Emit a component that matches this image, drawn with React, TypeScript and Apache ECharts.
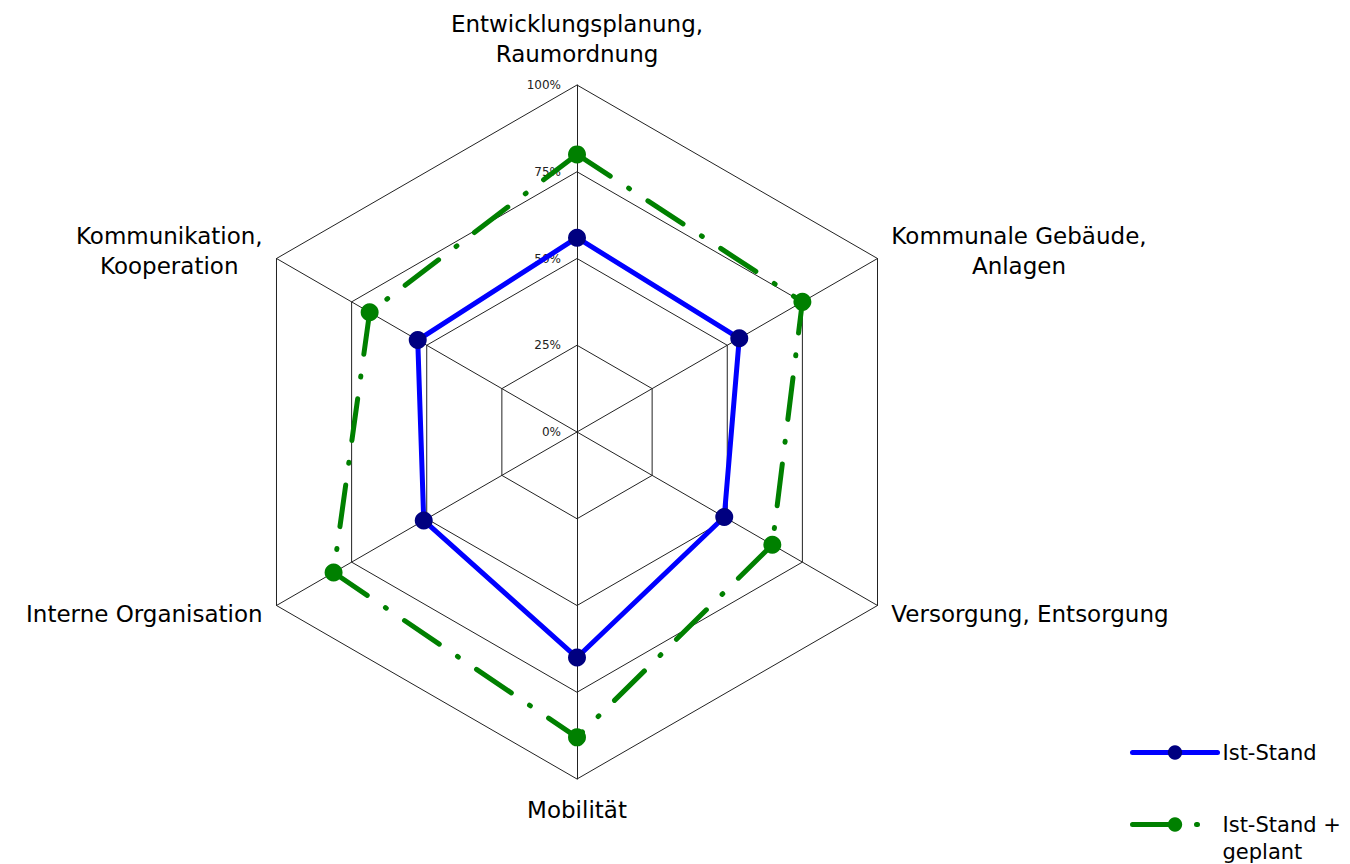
import React, { useEffect, useRef } from 'react';
import * as echarts from 'echarts';

// Categories in clockwise order starting from the top (as in the reference)
const categories = [
  'Entwicklungsplanung,\nRaumordnung',
  'Kommunale Gebäude,\nAnlagen',
  'Versorgung, Entsorgung',
  'Mobilität',
  'Interne Organisation',
  'Kommunikation,\nKooperation',
];
const istStand = [56, 54, 49, 65, 51, 53];
const istStandGeplant = [80, 75, 65, 88, 81, 69];
const tickValues = [0, 25, 50, 75, 100];
const seriesNames = ['Ist-Stand', 'Ist-Stand + geplant'];

export default function App() {
  const ref = useRef<HTMLDivElement>(null);
  useEffect(() => {
    const chart = echarts.init(ref.current as HTMLDivElement, null, { renderer: 'svg' });
    // ECharts radar places indicators counter-clockwise; reorder to get clockwise layout
    const order = [0, 5, 4, 3, 2, 1];
    const font = '"DejaVu Sans", "Liberation Sans", Arial, sans-serif';
    const greenDash = [42, 22, 1, 22];
    const center = [577, 432];
    const radius = 347;
    chart.setOption({
      animation: false,
      backgroundColor: '#ffffff',
      radar: {
        center,
        radius,
        startAngle: 90,
        shape: 'polygon',
        splitNumber: 4,
        nameGap: 16,
        indicator: order.map((i) => ({
          name: categories[i],
          min: tickValues[0],
          max: tickValues[tickValues.length - 1],
        })),
        axisName: {
          formatter: (n: string) =>
            n
              .split('\n')
              .map((l) => `{c|${l}}`)
              .join('\n'),
          rich: {
            c: {
              align: 'center',
              fontSize: 23,
              lineHeight: 30,
              fontFamily: font,
              color: '#000000',
            },
          },
          fontSize: 23,
          lineHeight: 30,
          fontFamily: font,
          color: '#000000',
        },
        axisLine: { lineStyle: { color: '#222222', width: 1 } },
        splitLine: { lineStyle: { color: '#222222', width: 1 } },
        splitArea: { show: false },
        axisTick: { show: false },
        axisLabel: { show: false },
      },
      polar: { center, radius },
      angleAxis: { show: false, startAngle: 90, min: 0, max: 360 },
      radiusAxis: {
        min: tickValues[0],
        max: tickValues[tickValues.length - 1],
        interval: tickValues[1] - tickValues[0],
        axisLine: { show: false },
        axisTick: { show: false },
        splitLine: { show: false },
        axisLabel: {
          formatter: '{value}%',
          fontSize: 12,
          color: '#222222',
          margin: 16,
          fontFamily: font,
        },
      },
      legend: [
        {
          data: [
            {
              name: seriesNames[0],
              itemStyle: { color: '#000080', borderWidth: 0 },
              lineStyle: { color: '#0000ff', width: 5, type: 'solid', cap: 'round' },
            },
          ],
          left: 1130,
          top: 742,
          padding: 0,
          itemWidth: 85,
          itemHeight: 18,
          selectedMode: false,
          textStyle: { fontSize: 21, fontFamily: font, color: '#000000' },
        },
        {
          data: [
            {
              name: seriesNames[1],
              itemStyle: { color: '#008000', borderWidth: 0 },
              lineStyle: { color: '#008000', width: 5, type: greenDash, cap: 'round' },
            },
          ],
          // leading empty line keeps the first text line level with the icon
          formatter: (n: string) => '\n' + n.replace(' + ', ' +\n'),
          left: 1130,
          top: 784,
          padding: 0,
          itemWidth: 85,
          itemHeight: 18,
          selectedMode: false,
          textStyle: {
            fontSize: 21,
            lineHeight: 27,
            fontFamily: font,
            color: '#000000',
          },
        },
      ],
      series: [
        {
          type: 'line',
          coordinateSystem: 'polar',
          name: seriesNames[0],
          data: [],
          symbol: 'circle',
          itemStyle: { color: '#000080' },
          lineStyle: { color: '#0000ff', width: 5 },
        },
        {
          type: 'line',
          coordinateSystem: 'polar',
          name: seriesNames[1],
          data: [],
          symbol: 'circle',
          itemStyle: { color: '#008000' },
          lineStyle: { color: '#008000', width: 5, type: greenDash, cap: 'round' },
        },
        {
          type: 'radar',
          symbol: 'circle',
          symbolSize: 18,
          data: [
            {
              name: seriesNames[1],
              value: order.map((i) => istStandGeplant[i]),
              itemStyle: { color: '#008000' },
              lineStyle: { color: '#008000', width: 5, type: greenDash, cap: 'round' },
            },
            {
              name: seriesNames[0],
              value: order.map((i) => istStand[i]),
              itemStyle: { color: '#000080' },
              lineStyle: { color: '#0000ff', width: 5 },
            },
          ],
        },
      ],
    });
    return () => {
      chart.dispose();
    };
  }, []);
  return (
    <div
      ref={ref}
      style={{ position: 'fixed', left: 0, top: 0, width: 1350, height: 864 }}
    />
  );
}
